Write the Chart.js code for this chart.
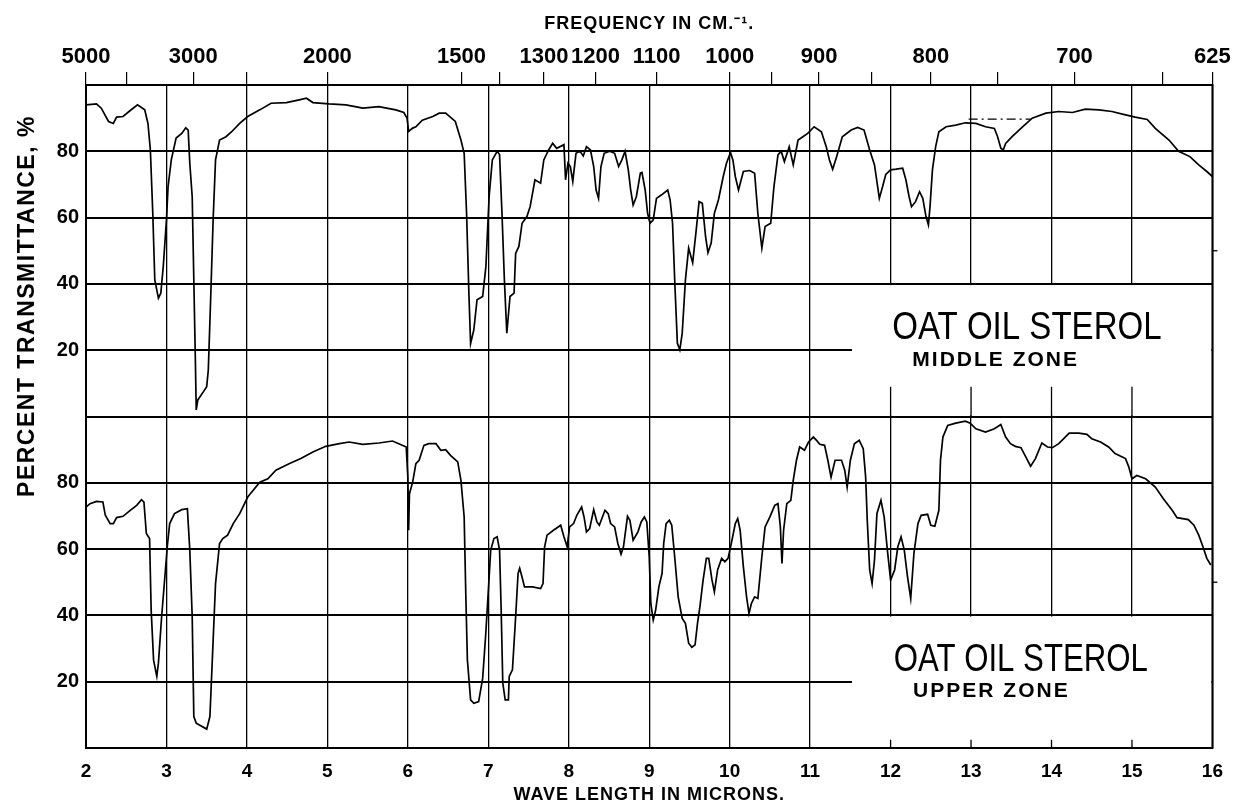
<!DOCTYPE html>
<html>
<head>
<meta charset="utf-8">
<script src="https://cdn.jsdelivr.net/npm/chart.js@4/dist/chart.umd.min.js"></script>
<style>
  html, body { margin: 0; padding: 0; background: #fff; }
  #spectrum { display: block; }
</style>
</head>
<body>
<canvas id="spectrum" width="1235" height="807"></canvas>
<script>
// wave length (microns) / percent transmittance
const middleWavelength = [
  2.00, 2.13, 2.19, 2.28, 2.34, 2.38, 2.46, 2.55, 2.64, 2.73, 2.77, 2.80, 2.83, 2.855, 2.90, 2.93, 2.96,
  3.00, 3.02, 3.06, 3.12, 3.19, 3.24, 3.27, 3.29, 3.32, 3.34, 3.36, 3.37, 3.39, 3.46, 3.50, 3.52, 3.55,
  3.58, 3.61, 3.66, 3.74, 3.81, 3.91, 4.01, 4.16, 4.30, 4.49, 4.65, 4.74, 4.82, 5.02, 5.23, 5.44, 5.64,
  5.85, 5.95, 5.99, 6.01, 6.06, 6.10, 6.18, 6.31, 6.39, 6.47, 6.59, 6.66, 6.70, 6.73, 6.76, 6.78, 6.82,
  6.86, 6.93, 6.97, 7.01, 7.05, 7.11, 7.14, 7.17, 7.20, 7.23, 7.27, 7.32, 7.34, 7.38, 7.42, 7.48, 7.52,
  7.58, 7.65, 7.69, 7.75, 7.80, 7.85, 7.94, 7.96, 7.99, 8.02, 8.05, 8.09, 8.14, 8.18, 8.22, 8.27, 8.31,
  8.34, 8.37, 8.40, 8.44, 8.51, 8.57, 8.62, 8.66, 8.70, 8.74, 8.77, 8.80, 8.84, 8.89, 8.91, 8.95, 8.98,
  9.01, 9.05, 9.09, 9.15, 9.23, 9.26, 9.29, 9.32, 9.35, 9.38, 9.41, 9.45, 9.49, 9.54, 9.58, 9.62, 9.66,
  9.70, 9.73, 9.77, 9.81, 9.86, 9.92, 9.96, 10.01, 10.04, 10.07, 10.11, 10.17, 10.25, 10.31, 10.35,
  10.40, 10.44, 10.51, 10.55, 10.60, 10.64, 10.68, 10.74, 10.79, 10.85, 10.91, 10.97, 11.05, 11.14,
  11.20, 11.24, 11.28, 11.33, 11.40, 11.51, 11.59, 11.67, 11.74, 11.80, 11.86, 11.90, 11.94, 12.00,
  12.07, 12.15, 12.19, 12.23, 12.26, 12.31, 12.36, 12.40, 12.44, 12.47, 12.49, 12.52, 12.56, 12.60,
  12.69, 12.81, 12.93, 13.06, 13.18, 13.29, 13.33, 13.37, 13.40, 13.43, 13.51, 13.64, 13.76, 13.93,
  14.09, 14.26, 14.42, 14.59, 14.75, 14.92, 15.04, 15.19, 15.29, 15.46, 15.58, 15.72, 15.83, 15.93, 16.00
];
const middleTransmittance = [
  94.0, 94.3, 93.0, 89.0, 88.4, 90.3, 90.5, 92.3, 94.0, 92.5, 88.4, 80.4, 61.3, 41.2, 35.7, 37.2, 45.2,
  59.3, 69.3, 77.4, 84.0, 85.4, 87.1, 86.4, 76.4, 66.3, 41.2, 16.1, 2.0, 5.0, 7.5, 9.0, 14.0, 36.0,
  59.3, 77.4, 83.4, 84.4, 85.9, 88.4, 90.5, 92.5, 94.5, 94.7, 95.5, 96.0, 94.7, 94.3, 94.0, 93.0, 93.5,
  92.5, 91.7, 90.0, 86.0, 87.0, 87.4, 89.4, 90.5, 91.5, 91.5, 89.0, 83.4, 79.4, 61.3, 36.2, 22.0, 26.1,
  35.2, 36.2, 45.2, 66.3, 77.4, 80.0, 79.0, 61.3, 41.2, 25.1, 36.2, 37.2, 49.2, 51.3, 58.3, 60.3, 63.3,
  71.4, 70.4, 77.4, 80.4, 82.4, 80.9, 82.0, 71.4, 76.4, 75.4, 70.9, 79.4, 80.0, 78.6, 81.4, 80.4, 75.4,
  68.3, 65.8, 75.4, 79.4, 80.0, 79.4, 75.4, 77.4, 80.0, 74.4, 68.3, 63.8, 66.3, 73.4, 73.6, 68.3, 61.3,
  58.3, 59.3, 65.8, 66.8, 68.3, 65.3, 58.3, 39.2, 22.1, 20.1, 25.1, 41.2, 50.8, 46.4, 55.3, 64.8, 64.3,
  54.3, 49.4, 52.3, 61.3, 65.3, 72.4, 76.4, 79.6, 77.4, 72.4, 68.3, 73.9, 74.2, 73.4, 61.3,
  50.8, 57.3, 58.3, 69.3, 78.9, 80.0, 76.9, 81.4, 75.9, 83.4, 84.4, 85.4, 87.4, 85.9,
  81.4, 77.4, 74.6, 78.4, 84.4, 86.4, 87.2, 86.4, 80.4, 75.9, 65.8, 69.3, 73.0, 74.4,
  74.6, 74.9, 71.4, 66.3, 63.3, 64.8, 67.8, 65.8, 60.3, 57.8, 63.3, 74.4, 81.4, 85.9,
  87.4, 87.9, 88.6, 88.4, 87.4, 86.9, 84.4, 80.9, 80.4, 82.4, 84.4, 87.4, 90.0, 91.5,
  92.0, 91.7, 92.7, 92.5, 92.0, 91.0, 90.3, 89.6, 86.9, 83.4, 80.0, 78.4, 75.9, 73.9, 72.4
];
// dash-dot reference line drawn on the middle zone trace
const middleRefWavelength = [12.97, 13.74];
const middleRefLevel = [89.7, 89.7];

const upperWavelength = [
  2.00, 2.05, 2.13, 2.21, 2.24, 2.30, 2.34, 2.38, 2.46, 2.55, 2.63, 2.69, 2.72, 2.75, 2.79, 2.81, 2.84,
  2.88, 2.90, 2.94, 2.98, 3.01, 3.04, 3.10, 3.19, 3.26, 3.29, 3.32, 3.34, 3.37, 3.50, 3.54, 3.57, 3.61,
  3.66, 3.70, 3.76, 3.83, 3.91, 4.01, 4.16, 4.26, 4.36, 4.53, 4.67, 4.82, 4.98, 5.15, 5.27, 5.44, 5.64,
  5.81, 5.93, 5.98, 6.00, 6.01, 6.02, 6.06, 6.10, 6.14, 6.20, 6.26, 6.35, 6.41, 6.47, 6.53, 6.62, 6.66,
  6.70, 6.72, 6.74, 6.78, 6.82, 6.88, 6.93, 6.97, 7.03, 7.07, 7.11, 7.14, 7.16, 7.18, 7.21, 7.25, 7.26,
  7.30, 7.34, 7.37, 7.39, 7.42, 7.45, 7.55, 7.65, 7.68, 7.70, 7.73, 7.81, 7.90, 7.94, 7.98, 8.01, 8.06,
  8.10, 8.16, 8.19, 8.22, 8.26, 8.31, 8.35, 8.38, 8.45, 8.49, 8.52, 8.57, 8.61, 8.65, 8.68, 8.73, 8.76,
  8.80, 8.86, 8.90, 8.94, 8.97, 9.00, 9.02, 9.05, 9.08, 9.12, 9.16, 9.18, 9.21, 9.25, 9.28, 9.32, 9.36,
  9.41, 9.45, 9.49, 9.53, 9.57, 9.60, 9.63, 9.67, 9.71, 9.74, 9.78, 9.81, 9.85, 9.90, 9.94, 9.98,
  10.02, 10.07, 10.10, 10.13, 10.17, 10.21, 10.24, 10.27, 10.31, 10.35, 10.40, 10.44, 10.50, 10.56,
  10.60, 10.63, 10.65, 10.67, 10.71, 10.76, 10.79, 10.83, 10.87, 10.93, 10.98, 11.04, 11.08, 11.12,
  11.18, 11.22, 11.26, 11.31, 11.39, 11.43, 11.46, 11.50, 11.55, 11.61, 11.66, 11.69, 11.71, 11.74,
  11.77, 11.80, 11.83, 11.88, 11.92, 11.96, 12.00, 12.05, 12.09, 12.13, 12.17, 12.21, 12.25, 12.29,
  12.34, 12.38, 12.46, 12.50, 12.55, 12.60, 12.62, 12.65, 12.71, 12.81, 12.93, 12.99, 13.06, 13.18,
  13.29, 13.37, 13.43, 13.49, 13.55, 13.62, 13.68, 13.74, 13.80, 13.88, 13.95, 14.01, 14.09, 14.22,
  14.34, 14.44, 14.50, 14.61, 14.71, 14.79, 14.92, 14.96, 15.00, 15.06, 15.17, 15.29, 15.39, 15.50,
  15.56, 15.70, 15.77, 15.83, 15.89, 15.93, 15.98
];
const upperTransmittance = [
  72.7, 73.7, 74.4, 74.2, 70.2, 67.7, 67.7, 69.5, 69.9, 71.7, 73.2, 74.9, 74.2, 64.7, 63.2, 41.6, 26.5,
  21.6, 25.6, 39.6, 51.6, 60.7, 67.7, 70.7, 71.9, 72.2, 59.7, 39.6, 9.5, 7.5, 5.7, 9.5, 26.6, 49.6,
  61.7, 63.2, 64.2, 67.7, 70.7, 75.7, 80.2, 81.2, 83.8, 85.8, 87.3, 89.3, 91.0, 91.8, 92.3, 91.6, 92.0,
  92.6, 91.3, 90.8, 81.7, 65.7, 76.7, 80.2, 85.8, 86.8, 91.3, 91.8, 91.8, 89.8, 90.0, 88.3, 86.3, 80.7,
  69.7, 46.6, 26.6, 14.5, 13.5, 14.0, 21.0, 35.0, 59.7, 63.2, 63.7, 59.7, 41.6, 19.6, 14.5, 14.5, 21.6,
  23.6, 39.6, 52.7, 54.2, 51.5, 48.6, 48.6, 48.1, 49.6, 60.7, 64.2, 65.7, 67.2, 63.7, 60.7, 66.7, 67.7,
  70.2, 72.7, 69.7, 65.2, 66.2, 71.9, 68.2, 67.2, 71.7, 70.7, 67.7, 66.7, 61.7, 58.5, 60.7, 69.9, 68.7,
  62.7, 65.2, 68.2, 69.7, 68.2, 57.7, 43.6, 38.6, 41.6, 48.6, 52.7, 61.7, 67.7, 68.7, 67.2, 56.7, 45.6,
  39.1, 37.6, 31.6, 30.4, 31.1, 37.6, 42.6, 50.7, 57.2, 57.2, 50.7, 47.1, 53.7, 57.2, 56.2, 57.2,
  61.7, 67.7, 69.2, 65.7, 54.7, 45.6, 40.6, 43.6, 45.6, 45.1, 57.7, 66.7, 69.7, 73.2,
  73.7, 66.7, 55.7, 65.7, 73.7, 74.7, 80.7, 86.8, 90.8, 89.8, 92.3, 93.8, 92.8, 91.6,
  91.3, 86.8, 81.7, 86.8, 86.8, 83.8, 78.7, 86.8, 91.8, 92.8, 90.3, 81.7, 68.7, 53.7,
  49.6, 56.7, 70.7, 74.7, 69.7, 59.7, 50.7, 53.7, 60.7, 63.7, 59.7, 51.7, 45.1, 58.7,
  67.7, 70.2, 70.5, 67.2, 66.9, 71.7, 86.8, 93.8, 97.3, 98.0, 98.6, 98.0, 96.3, 95.3,
  96.3, 97.6, 93.8, 91.8, 91.0, 90.6, 87.8, 85.0, 87.3, 92.0, 90.8, 90.6, 91.8, 95.0,
  95.0, 94.6, 93.3, 92.3, 90.8, 88.8, 87.3, 84.8, 81.2, 82.2, 81.2, 78.7, 75.2, 71.7,
  69.5, 68.9, 67.2, 64.2, 60.2, 57.2, 55.2
];

// top scale: frequency in cm-1, placed at 10000 / frequency microns
const freqTicks = [5000, 4000, 3000, 2500, 2000, 1500, 1400, 1300, 1200, 1100, 1000, 950, 900, 850, 800, 750, 700, 650, 625];
const freqLabels = ['5000', '', '3000', '', '2000', '1500', '', '1300', '1200', '1100', '1000', '', '900', '', '800', '', '700', '', '625'];

const panelTitles = ['OAT OIL STEROL', 'OAT OIL STEROL'];
const panelZones = ['MIDDLE ZONE', 'UPPER ZONE'];

const toPoints = (xs, ys) => xs.map((v, i) => ({ x: v, y: ys[i] }));

const boldFont = '"Liberation Sans", Arial, sans-serif';

const spectrumDecor = {
  id: 'spectrumDecor',
  beforeDatasetsDraw(chart) {
    const { ctx, chartArea: area, scales } = chart;
    const x = scales.x;
    const y = scales.y;
    ctx.save();
    // blank label box in the lower right of each panel
    ctx.fillStyle = '#fff';
    const boxLeft = x.getPixelForValue(11.52);
    for (const base of [0, 100]) {
      const top = y.getPixelForValue(base + 40) + 1.2;
      const bottom = y.getPixelForValue(base) - 1.2;
      ctx.fillRect(boxLeft, top, area.right - 1 - boxLeft, bottom - top);
    }
    // grid stubs left in the box
    ctx.strokeStyle = '#000';
    ctx.lineWidth = 1.3;
    for (const micron of [12, 13, 14, 15]) {
      const px = x.getPixelForValue(micron);
      ctx.beginPath();
      ctx.moveTo(px, y.getPixelForValue(109));
      ctx.lineTo(px, y.getPixelForValue(100));
      ctx.moveTo(px, y.getPixelForValue(2.5));
      ctx.lineTo(px, y.getPixelForValue(0));
      ctx.stroke();
    }
    // small ticks at 50 % outside the right edge
    for (const level of [50, 150]) {
      const py = y.getPixelForValue(level);
      ctx.beginPath();
      ctx.moveTo(area.right, py);
      ctx.lineTo(area.right + 5, py);
      ctx.stroke();
    }
    ctx.restore();
  },
  afterDraw(chart) {
    const { ctx, chartArea: area, scales } = chart;
    const x = scales.x;
    const y = scales.y;
    ctx.save();
    ctx.fillStyle = '#000';
    ctx.strokeStyle = '#000';
    ctx.lineWidth = 2;
    ctx.strokeRect(area.left, area.top, area.right - area.left, area.bottom - area.top);

    // panel labels
    ctx.textBaseline = 'middle';
    ctx.textAlign = 'left';
    panelTitles.forEach((title, i) => {
      const base = i === 0 ? 100 : 0;
      const px = x.getPixelForValue(i === 0 ? 12.02 : 12.04);
      ctx.save();
      ctx.translate(px, y.getPixelForValue(base + 26.5));
      ctx.scale(i === 0 ? 0.87 : 0.82, 1);
      ctx.font = '38px ' + boldFont;
      ctx.fillText(title, 0, 0);
      ctx.restore();
      ctx.save();
      ctx.font = 'bold 21px ' + boldFont;
      ctx.letterSpacing = '2px';
      ctx.fillText(panelZones[i], x.getPixelForValue(i === 0 ? 12.27 : 12.28), y.getPixelForValue(base + 17));
      ctx.restore();
    });

    // axis titles
    ctx.textAlign = 'center';
    ctx.font = 'bold 18px ' + boldFont;
    ctx.letterSpacing = '1px';
    const midX = (area.left + area.right) / 2;
    ctx.fillText('FREQUENCY IN CM.\u207B\u00B9.', midX, 24);
    ctx.fillText('WAVE LENGTH IN MICRONS.', midX, 795);

    ctx.save();
    ctx.translate(28, 306);
    ctx.rotate(-Math.PI / 2);
    ctx.font = 'bold 23px ' + boldFont;
    ctx.letterSpacing = '1.5px';
    ctx.fillText('PERCENT TRANSMITTANCE, %', 0, 0);
    ctx.restore();
    ctx.restore();
  }
};

const traceStyle = { borderColor: '#000', borderWidth: 1.7, pointRadius: 0, tension: 0, fill: false };

new Chart(document.getElementById('spectrum'), {
  type: 'line',
  data: {
    datasets: [
      { ...traceStyle, label: 'Middle zone', data: toPoints(middleWavelength, middleTransmittance), yAxisID: 'yUpperPanel' },
      { ...traceStyle, label: 'Middle zone reference', data: toPoints(middleRefWavelength, middleRefLevel), yAxisID: 'yUpperPanel', borderWidth: 1.3, borderDash: [9, 4, 2, 4] },
      { ...traceStyle, label: 'Upper zone', data: toPoints(upperWavelength, upperTransmittance), yAxisID: 'y' }
    ]
  },
  options: {
    responsive: false,
    animation: false,
    devicePixelRatio: 1,
    layout: { padding: { left: 0, right: 19, top: 0, bottom: 0 } },
    plugins: { legend: { display: false }, tooltip: { enabled: false } },
    scales: {
      x: {
        type: 'linear',
        position: 'bottom',
        min: 2,
        max: 16,
        afterFit: (scale) => { scale.height = 59; },
        ticks: { stepSize: 1, autoSkip: false, maxRotation: 0, padding: 12, color: '#000', font: { family: boldFont, size: 19, weight: 'bold' } },
        grid: { color: '#000', lineWidth: 1.3, drawTicks: false },
        border: { display: false }
      },
      xFreq: {
        type: 'linear',
        position: 'top',
        min: 2,
        max: 16,
        afterFit: (scale) => { scale.height = 85; },
        afterBuildTicks: (scale) => { scale.ticks = freqTicks.map((f) => ({ value: 10000 / f })); },
        ticks: {
          autoSkip: false,
          maxRotation: 0,
          padding: 2,
          color: '#000',
          font: { family: boldFont, size: 22, weight: 'bold' },
          callback: (value, index) => freqLabels[index]
        },
        grid: { drawOnChartArea: false, color: '#000', lineWidth: 1.2, tickLength: 13 },
        border: { display: true, color: '#000', width: 2 }
      },
      y: {
        type: 'linear',
        position: 'left',
        min: 0,
        max: 200,
        afterFit: (scale) => { scale.width = 86; },
        ticks: {
          stepSize: 20,
          padding: 7,
          color: '#000',
          font: { family: boldFont, size: 20, weight: 'bold' },
          callback: (value) => (value % 100 === 0 ? '' : String(value % 100))
        },
        grid: { color: '#000', lineWidth: 2, drawTicks: false },
        border: { display: false }
      },
      yUpperPanel: {
        type: 'linear',
        display: false,
        min: -100,
        max: 100
      }
    }
  },
  plugins: [spectrumDecor]
});
</script>
</body>
</html>
